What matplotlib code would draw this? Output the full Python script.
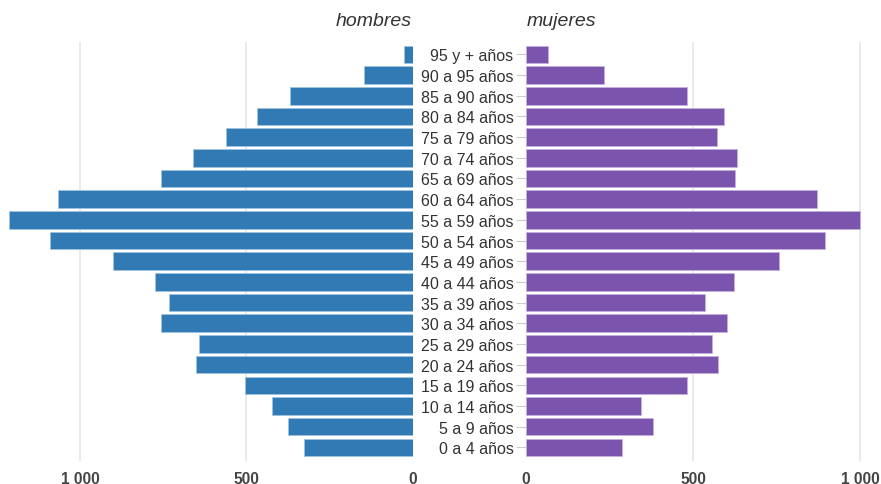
import matplotlib
matplotlib.use('Agg')
import matplotlib.pyplot as plt
import numpy as np

plt.rcParams['font.family'] = ['Liberation Sans', 'DejaVu Sans']

# ------------------------------------------------------------
# Data, youngest group first
# ------------------------------------------------------------
age_groups = ['0 a 4 años', '5 a 9 años', '10 a 14 años', '15 a 19 años',
              '20 a 24 años', '25 a 29 años', '30 a 34 años', '35 a 39 años',
              '40 a 44 años', '45 a 49 años', '50 a 54 años', '55 a 59 años',
              '60 a 64 años', '65 a 69 años', '70 a 74 años', '75 a 79 años',
              '80 a 84 años', '85 a 90 años', '90 a 95 años', '95 y + años']

hombres = [326, 374, 423, 503, 653, 644, 756, 733, 774, 902,
           1089, 1213, 1066, 756, 662, 560, 467, 370, 148, 28]

mujeres = [287, 380, 345, 481, 574, 557, 601, 534, 623, 757,
           893, 999, 870, 624, 632, 570, 592, 481, 234, 66]

x_ticks = [0, 500, 1000]
x_ticklabels = ['0', '500', '1 000']

BLUE = '#317ab4'
BLUE_EDGE = '#9fc2e0'
PURPLE = '#7a54ad'
PURPLE_EDGE = '#c4b0de'
GRID = '#e4e4e4'
TEXT = '#333333'

W, H = 881, 485
fig = plt.figure(figsize=(W / 100, H / 100), dpi=100)

ax_bottom = (H - 462) / H
ax_height = 419 / H
ax_l = fig.add_axes([0.0, ax_bottom, 413 / W, ax_height])
ax_r = fig.add_axes([526 / W, ax_bottom, (W - 526) / W, ax_height])

y = np.arange(len(age_groups))

ax_l.barh(y, hombres, height=0.85, color=BLUE, edgecolor=BLUE_EDGE,
          linewidth=0.6, zorder=3)
ax_r.barh(y, mujeres, height=0.85, color=PURPLE, edgecolor=PURPLE_EDGE,
          linewidth=0.6, zorder=3)

ax_l.set_xlim(1240, 0)
ax_r.set_xlim(0, 1062)

for ax in (ax_l, ax_r):
    ax.set_ylim(-0.66, 19.6)
    for s in ax.spines.values():
        s.set_visible(False)
    ax.set_xticks(x_ticks)
    ax.set_xticklabels(x_ticklabels, fontsize=11.2, fontweight='bold',
                       color='#444444')
    ax.tick_params(axis='x', length=0, pad=7)
    ax.grid(axis='x', color=GRID, lw=1.1, zorder=0)
    ax.set_axisbelow(True)

ax_l.set_yticks([])
ax_r.set_yticks(y)
ax_r.set_yticklabels(age_groups, fontsize=11.5, color=TEXT)
ax_r.tick_params(axis='y', length=7, width=0.8, color='#cccccc', pad=2)

# hide the zero grid lines under the bars
ax_l.get_xgridlines()[0].set_visible(False)
ax_r.get_xgridlines()[0].set_visible(False)

fig.text(412 / W, 1 - 21 / H, 'hombres', ha='right', va='center',
         fontsize=14, style='italic', color=TEXT)
fig.text(527 / W, 1 - 21 / H, 'mujeres', ha='left', va='center',
         fontsize=14, style='italic', color=TEXT)

fig.savefig('out.png', dpi=100)
